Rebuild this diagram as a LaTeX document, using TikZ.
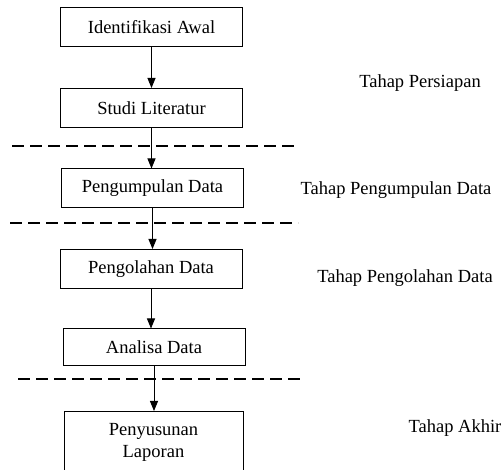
\documentclass[tikz,border=0pt]{standalone}
\usepackage{fontspec}
\setmainfont{Liberation Serif}
\usetikzlibrary{positioning, calc, arrows.meta}

\begin{document}
\begin{tikzpicture}[x=1pt, y=-1pt,
    stepbox/.style={draw, line width=1pt, minimum width=182pt, minimum height=39pt,
                    inner sep=0pt, align=center, font=\fontsize{18.5}{22}\selectfont},
    flow/.style={line width=0.9pt, -{Triangle[length=10pt,width=8pt]}},
    stagecut/.style={line width=1.1pt, dash pattern=on 12pt off 6pt},
    stagelabel/.style={font=\fontsize{18.5}{22}\selectfont}]

    % Page frame
    \useasboundingbox (0,0) rectangle (504,470);

    % Process boxes, top to bottom
    \node[stepbox] (awal) at (151.5, 27) {Identifikasi Awal};
    \node[stepbox] (studi) at (151.5, 108) {Studi Literatur};
    \node[stepbox] (kumpul) at (152.5, 188.5) {Pengumpulan Data};
    \node[stepbox] (olah) at (151, 269) {Pengolahan Data};
    \node[stepbox, minimum height=37pt] (analisa) at (154, 347.5) {Analisa Data};
    % Last box runs past the bottom edge
    \node[stepbox, minimum width=179pt, minimum height=62pt, anchor=north]
        (laporan) at (153.5, 411) {Penyusunan\\Laporan};

    % Arrows between the boxes
    \draw[flow] (awal.south) -- (awal.south |- studi.north);
    \draw[flow] (studi.south) -- (studi.south |- kumpul.north);
    \draw[flow] (kumpul.south) -- (kumpul.south |- olah.north);
    \draw[flow] (olah.south) -- (olah.south |- analisa.north);
    \draw[flow] (analisa.south) -- (analisa.south |- laporan.north);

    % Dashed borders between the stages
    \coordinate (cutA) at (12, 146);
    \coordinate (cutB) at (10, 223);
    \coordinate (cutC) at (18, 379);
    \draw[stagecut] (cutA) -- ++(286, 0);
    \draw[stagecut] (cutB) -- ++(288, 0);
    \draw[stagecut] (cutC) -- ++(287, 0);

    % Stage names on the right
    \node[stagelabel] (persiapan) at (420, 83) {Tahap Persiapan};
    \node[stagelabel] (pengumpulan) at (396, 190) {Tahap Pengumpulan Data};
    \node[stagelabel] (pengolahan) at (405, 278) {Tahap Pengolahan Data};
    \node[stagelabel] (akhir) at (455, 428) {Tahap Akhir};

\end{tikzpicture}
\end{document}
